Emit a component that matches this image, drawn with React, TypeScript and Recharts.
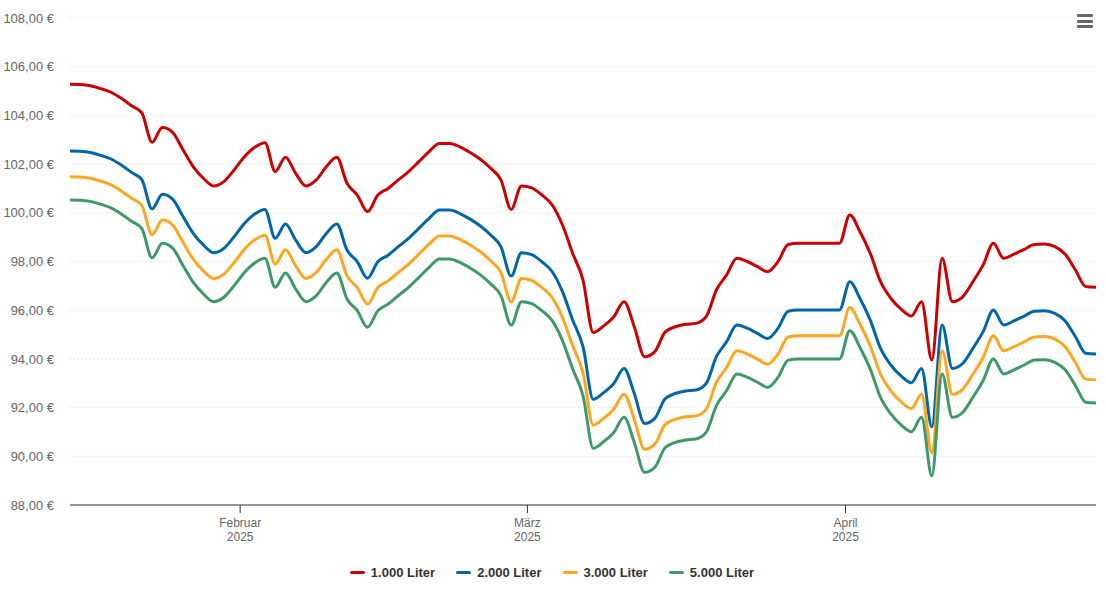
import React from 'react';
import { LineChart, Line, XAxis, YAxis, CartesianGrid, Legend } from 'recharts';

// Tag 0 = 1. Januar 2025, erster Wert am 15. Januar
const firstDay = 14;
// Preise werden am Vormittag erfasst (ca. 10 Uhr)
const hourOfDay = 10 / 24;

// Heizölpreise in € pro 100 Liter, ein Wert pro Tag
const liter1000 = [
  105.28, 105.27, 105.22, 105.1, 104.95, 104.7, 104.4, 104.1, 102.9, 103.5,
  103.3, 102.6, 101.9, 101.42, 101.1, 101.28, 101.76, 102.3, 102.69, 102.88,
  101.69, 102.28, 101.62, 101.1, 101.35, 101.9, 102.28, 101.21, 100.73, 100.05,
  100.73, 101.0, 101.35, 101.69, 102.1, 102.51, 102.85, 102.85, 102.71, 102.48,
  102.2, 101.83, 101.35, 100.14, 101.1, 101.02, 100.73, 100.32, 99.5, 98.33,
  97.24, 95.08, 95.35, 95.73, 96.35, 95.32, 94.09, 94.3, 95.1, 95.32,
  95.42, 95.46, 95.73, 96.83, 97.45, 98.13, 98.0, 97.79, 97.58, 97.99,
  98.7, 98.75, 98.75, 98.75, 98.75, 98.75, 99.91, 99.22, 98.33, 97.17,
  96.49, 96.04, 95.76, 96.35, 93.95, 98.13, 96.35, 96.55, 97.17, 97.86,
  98.75, 98.13, 98.3, 98.5, 98.7, 98.72, 98.61, 98.3, 97.65, 96.97,
  96.94,
];

const liter2000 = [
  102.54, 102.53, 102.48, 102.36, 102.21, 101.96, 101.66, 101.36, 100.16, 100.76,
  100.56, 99.86, 99.16, 98.68, 98.36, 98.54, 99.02, 99.56, 99.95, 100.14,
  98.95, 99.54, 98.88, 98.36, 98.61, 99.16, 99.54, 98.47, 97.99, 97.31,
  97.99, 98.26, 98.61, 98.95, 99.36, 99.77, 100.11, 100.11, 99.97, 99.74,
  99.46, 99.09, 98.61, 97.4, 98.36, 98.28, 97.99, 97.58, 96.76, 95.59,
  94.5, 92.34, 92.61, 92.99, 93.61, 92.58, 91.35, 91.56, 92.36, 92.58,
  92.68, 92.72, 92.99, 94.09, 94.71, 95.39, 95.26, 95.05, 94.84, 95.25,
  95.96, 96.01, 96.01, 96.01, 96.01, 96.01, 97.17, 96.48, 95.59, 94.43,
  93.75, 93.3, 93.02, 93.61, 91.21, 95.39, 93.61, 93.81, 94.43, 95.12,
  96.01, 95.39, 95.56, 95.76, 95.96, 95.98, 95.87, 95.56, 94.91, 94.23,
  94.2,
];

const liter3000 = [
  101.48, 101.47, 101.42, 101.3, 101.15, 100.9, 100.6, 100.3, 99.1, 99.7,
  99.5, 98.8, 98.1, 97.62, 97.3, 97.48, 97.96, 98.5, 98.89, 99.08,
  97.89, 98.48, 97.82, 97.3, 97.55, 98.1, 98.48, 97.41, 96.93, 96.25,
  96.93, 97.2, 97.55, 97.89, 98.3, 98.71, 99.05, 99.05, 98.91, 98.68,
  98.4, 98.03, 97.55, 96.34, 97.3, 97.22, 96.93, 96.52, 95.7, 94.53,
  93.44, 91.28, 91.55, 91.93, 92.55, 91.52, 90.29, 90.5, 91.3, 91.52,
  91.62, 91.66, 91.93, 93.03, 93.65, 94.33, 94.2, 93.99, 93.78, 94.19,
  94.9, 94.95, 94.95, 94.95, 94.95, 94.95, 96.11, 95.42, 94.53, 93.37,
  92.69, 92.24, 91.96, 92.55, 90.15, 94.33, 92.55, 92.75, 93.37, 94.06,
  94.95, 94.33, 94.5, 94.7, 94.9, 94.92, 94.81, 94.5, 93.85, 93.17,
  93.14,
];

const liter5000 = [
  100.53, 100.52, 100.47, 100.35, 100.2, 99.95, 99.65, 99.35, 98.15, 98.75,
  98.55, 97.85, 97.15, 96.67, 96.35, 96.53, 97.01, 97.55, 97.94, 98.13,
  96.94, 97.53, 96.87, 96.35, 96.6, 97.15, 97.53, 96.46, 95.98, 95.3,
  95.98, 96.25, 96.6, 96.94, 97.35, 97.76, 98.1, 98.1, 97.96, 97.73,
  97.45, 97.08, 96.6, 95.39, 96.35, 96.27, 95.98, 95.57, 94.75, 93.58,
  92.49, 90.33, 90.6, 90.98, 91.6, 90.57, 89.34, 89.55, 90.35, 90.57,
  90.67, 90.71, 90.98, 92.08, 92.7, 93.38, 93.25, 93.04, 92.83, 93.24,
  93.95, 94.0, 94.0, 94.0, 94.0, 94.0, 95.16, 94.47, 93.58, 92.42,
  91.74, 91.29, 91.01, 91.6, 89.2, 93.38, 91.6, 91.8, 92.42, 93.11,
  94.0, 93.38, 93.55, 93.75, 93.95, 93.97, 93.86, 93.55, 92.9, 92.22,
  92.19,
];

const monthTicks = [31, 59, 90];
const monthLabels = ['Februar', 'März', 'April'];
const yearLabel = '2025';
const priceTicks = [88, 90, 92, 94, 96, 98, 100, 102, 104, 106, 108];

const seriesKeys = ['l1000', 'l2000', 'l3000', 'l5000'];
const seriesNames = ['1.000 Liter', '2.000 Liter', '3.000 Liter', '5.000 Liter'];
const COLORS = ['#cc0000', '#0066aa', '#ffa51f', '#3d9a68'];

const FONT = '"Liberation Sans", Arial, sans-serif';

const data = liter1000.map((v, i) => ({
  day: firstDay + i + hourOfDay,
  l1000: v,
  l2000: liter2000[i],
  l3000: liter3000[i],
  l5000: liter5000[i],
}));

const formatEuro = (v: number) => v.toFixed(2).replace('.', ',') + ' €';

const MonthTick = (props: any) => {
  const { x, y, payload } = props;
  const idx = monthTicks.indexOf(payload.value);
  return (
    <g transform={`translate(${x},${y})`}>
      <text textAnchor="middle" fill="#666" fontSize={12} fontFamily={FONT}>
        <tspan x={0} dy={11.5}>{monthLabels[idx]}</tspan>
        <tspan x={0} dy={14.5}>{yearLabel}</tspan>
      </text>
    </g>
  );
};

const renderLegend = () => (
  <div
    style={{
      display: 'flex',
      justifyContent: 'center',
      alignItems: 'center',
      gap: 21,
      height: 30,
      paddingTop: 4,
      boxSizing: 'border-box',
      fontFamily: FONT,
      fontSize: 13,
      fontWeight: 'bold',
      color: '#333',
    }}
  >
    {seriesNames.map((name, i) => (
      <span key={name} style={{ display: 'flex', alignItems: 'center' }}>
        <span
          style={{
            display: 'inline-block',
            width: 15,
            height: 3,
            borderRadius: 1.5,
            background: COLORS[i],
            marginRight: 6,
          }}
        />
        {name}
      </span>
    ))}
  </div>
);

const App: React.FC = () => {
  return (
    <div style={{ position: 'absolute', left: 0, top: 0, width: 1106, height: 603, background: '#fff' }}>
      <LineChart
        width={1106}
        height={603}
        data={data}
        margin={{ top: 18, right: 10, bottom: 18, left: 8 }}
      >
        <CartesianGrid vertical={false} stroke="#d6d6d6" strokeDasharray="1 3" />
        <XAxis
          type="number"
          dataKey="day"
          domain={[firstDay + hourOfDay, firstDay + liter1000.length - 1 + hourOfDay]}
          ticks={monthTicks}
          tick={<MonthTick />}
          tickSize={8}
          tickMargin={2}
          height={50}
          axisLine={{ stroke: '#333' }}
          tickLine={{ stroke: '#333' }}
          allowDataOverflow
        />
        <YAxis
          domain={[88, 108]}
          ticks={priceTicks}
          tickFormatter={formatEuro}
          axisLine={false}
          tickLine={false}
          tickSize={8}
          tickMargin={8}
          width={62}
          tick={{ fill: '#666', fontSize: 13, fontFamily: FONT }}
        />
        <Legend verticalAlign="bottom" height={30} content={renderLegend} />
        {seriesKeys.map((key, i) => (
          <Line
            key={key}
            type="monotone"
            dataKey={key}
            name={seriesNames[i]}
            stroke={COLORS[i]}
            strokeWidth={3}
            dot={false}
            activeDot={false}
            isAnimationActive={false}
          />
        ))}
      </LineChart>
      {/* Menü-Symbol oben rechts */}
      <div style={{ position: 'absolute', left: 1077, top: 14 }}>
        {[0, 1, 2].map((n) => (
          <div
            key={n}
            style={{ width: 16, height: 3, background: '#666', marginBottom: 2.5, borderRadius: 1 }}
          />
        ))}
      </div>
    </div>
  );
};

export default App;
